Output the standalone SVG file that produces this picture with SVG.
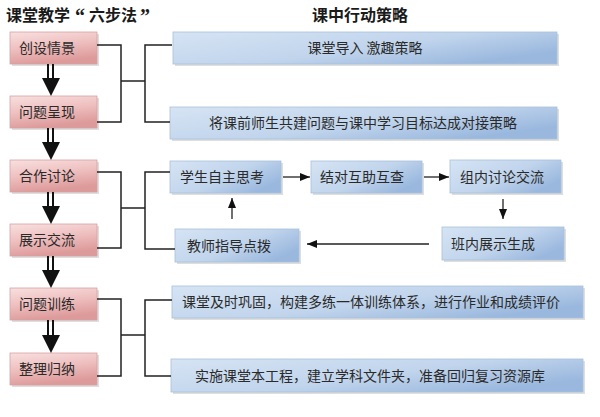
<svg xmlns="http://www.w3.org/2000/svg" width="600" height="417" viewBox="0 0 600 417">
<defs>
<linearGradient id="pink" x1="0" y1="0" x2="0.3" y2="1">
<stop offset="0" stop-color="#f8e0e0"/>
<stop offset="0.5" stop-color="#efc0c0"/>
<stop offset="1" stop-color="#dd9a9a"/>
</linearGradient>
<linearGradient id="blue" x1="0" y1="0" x2="1" y2="0.6">
<stop offset="0" stop-color="#d6e4f4"/>
<stop offset="0.6" stop-color="#c0d4ec"/>
<stop offset="1" stop-color="#9ab8de"/>
</linearGradient>
<marker id="ah" viewBox="0 0 10 10" refX="10" refY="5" markerWidth="10" markerHeight="10" markerUnits="userSpaceOnUse" orient="auto">
<path d="M0,1 L10,5 L0,9 z" fill="#111"/>
</marker>
</defs>
<style>
.pk{fill:url(#pink);stroke:#d9a0a0;stroke-width:0.8}
.bl{fill:url(#blue);stroke:#a9c0dc;stroke-width:0.8}
.sh{fill:#c8c8c8;opacity:0.6}
.t{font-family:"Noto Sans CJK SC","Noto Sans",sans-serif;font-size:14px;fill:#2a2a2a}
.h{font-family:"Liberation Serif","Noto Sans CJK SC",serif;font-size:16px;font-weight:bold;fill:#1a1a1a}
.q{font-size:20px}
.ln{fill:none;stroke:#222;stroke-width:1.5}
.ar{fill:none;stroke:#222;stroke-width:1.3;marker-end:url(#ah)}
.dl{stroke:#111;stroke-width:2}
</style>
<rect width="600" height="417" fill="#fff"/>
<text class="h" x="6" y="21" xml:space="preserve">课堂教学<tspan class="q" x="75" y="23">“</tspan><tspan x="89" y="21">六步法 </tspan><tspan class="q" x="140" y="23">”</tspan></text>
<text class="h" x="312" y="21">课中行动策略</text>

<g id="s1"><rect class="sh" x="12" y="34" width="87" height="32"/><rect class="pk" x="10" y="32" width="87" height="32"/><text class="t" x="19" y="53">创设情景</text></g>
<g id="s2"><rect class="sh" x="12" y="98" width="87" height="32"/><rect class="pk" x="10" y="96" width="87" height="32"/><text class="t" x="19" y="117">问题呈现</text></g>
<g id="s3"><rect class="sh" x="12" y="162" width="87" height="32"/><rect class="pk" x="10" y="160" width="87" height="32"/><text class="t" x="19" y="181">合作讨论</text></g>
<g id="s4"><rect class="sh" x="12" y="226" width="87" height="32"/><rect class="pk" x="10" y="224" width="87" height="32"/><text class="t" x="19" y="245">展示交流</text></g>
<g id="s5"><rect class="sh" x="12" y="290" width="87" height="32"/><rect class="pk" x="10" y="288" width="87" height="32"/><text class="t" x="19" y="309">问题训练</text></g>
<g id="s6"><rect class="sh" x="12" y="355" width="87" height="32"/><rect class="pk" x="10" y="353" width="87" height="32"/><text class="t" x="19" y="374">整理归纳</text></g>

<g id="b1"><rect class="sh" x="175" y="34" width="384" height="32"/><rect class="bl" x="173" y="32" width="384" height="32"/><text class="t" x="365" y="53" text-anchor="middle">课堂导入 激趣策略</text></g>
<g id="b2"><rect class="sh" x="172" y="109" width="387" height="32"/><rect class="bl" x="170" y="107" width="387" height="32"/><text class="t" x="363" y="128" text-anchor="middle">将课前师生共建问题与课中学习目标达成对接策略</text></g>
<g id="n1"><rect class="sh" x="172" y="163" width="111" height="32"/><rect class="bl" x="170" y="161" width="111" height="32"/><text class="t" x="180" y="182">学生自主思考</text></g>
<g id="n2"><rect class="sh" x="313" y="163" width="111" height="32"/><rect class="bl" x="311" y="161" width="111" height="32"/><text class="t" x="320" y="182">结对互助互查</text></g>
<g id="n3"><rect class="sh" x="452" y="162" width="111" height="33"/><rect class="bl" x="450" y="160" width="111" height="33"/><text class="t" x="460" y="182">组内讨论交流</text></g>
<g id="n4"><rect class="sh" x="444" y="229" width="122" height="33"/><rect class="bl" x="442" y="227" width="122" height="33"/><text class="t" x="451" y="249">班内展示生成</text></g>
<g id="n5"><rect class="sh" x="177" y="231" width="124" height="33"/><rect class="bl" x="175" y="229" width="124" height="33"/><text class="t" x="187" y="251">教师指导点拨</text></g>
<g id="b5"><rect class="sh" x="174" y="288" width="411" height="32"/><rect class="bl" x="172" y="286" width="411" height="32"/><text class="t" x="182" y="307">课堂及时巩固，构建多练一体训练体系，进行作业和成绩评价</text></g>
<g id="b6"><rect class="sh" x="173" y="361" width="412" height="33"/><rect class="bl" x="171" y="359" width="412" height="33"/><text class="t" x="195" y="381">实施课堂本工程，建立学科文件夹，准备回归复习资源库</text></g>

<g id="connectors">
<g id="steps">
<line class="dl" x1="48" y1="64" x2="48" y2="80"/><line class="dl" x1="53" y1="64" x2="53" y2="80"/><path d="M42,78 L60,78 L51,96 z" fill="#111"/>
<line class="dl" x1="48" y1="128" x2="48" y2="144"/><line class="dl" x1="53" y1="128" x2="53" y2="144"/><path d="M42,142 L60,142 L51,160 z" fill="#111"/>
<line class="dl" x1="48" y1="192" x2="48" y2="208"/><line class="dl" x1="53" y1="192" x2="53" y2="208"/><path d="M42,206 L60,206 L51,224 z" fill="#111"/>
<line class="dl" x1="48" y1="256" x2="48" y2="272"/><line class="dl" x1="53" y1="256" x2="53" y2="272"/><path d="M42,270 L60,270 L51,288 z" fill="#111"/>
<line class="dl" x1="48" y1="320" x2="48" y2="337"/><line class="dl" x1="53" y1="320" x2="53" y2="337"/><path d="M42,335 L60,335 L51,353 z" fill="#111"/>
</g>
<path class="ln" d="M97,45 H121 V122 H97 M121,81 H145 M172,45 H145 V122 H170"/>
<path class="ln" d="M97,172 H121 V248 H97 M121,208 H145 M170,172 H145 V249 H175"/>
<path class="ln" d="M97,299 H121 V376 H97 M121,335 H145 M172,300 H145 V376 H171"/>
<line class="ar" x1="283" y1="177" x2="310" y2="177"/>
<line class="ar" x1="424" y1="177" x2="449" y2="177"/>
<line class="ar" x1="503" y1="199" x2="503" y2="219"/>
<line class="ar" x1="429" y1="244" x2="307" y2="244"/>
<line class="ar" x1="232" y1="219" x2="232" y2="198"/>
</g>
</svg>
